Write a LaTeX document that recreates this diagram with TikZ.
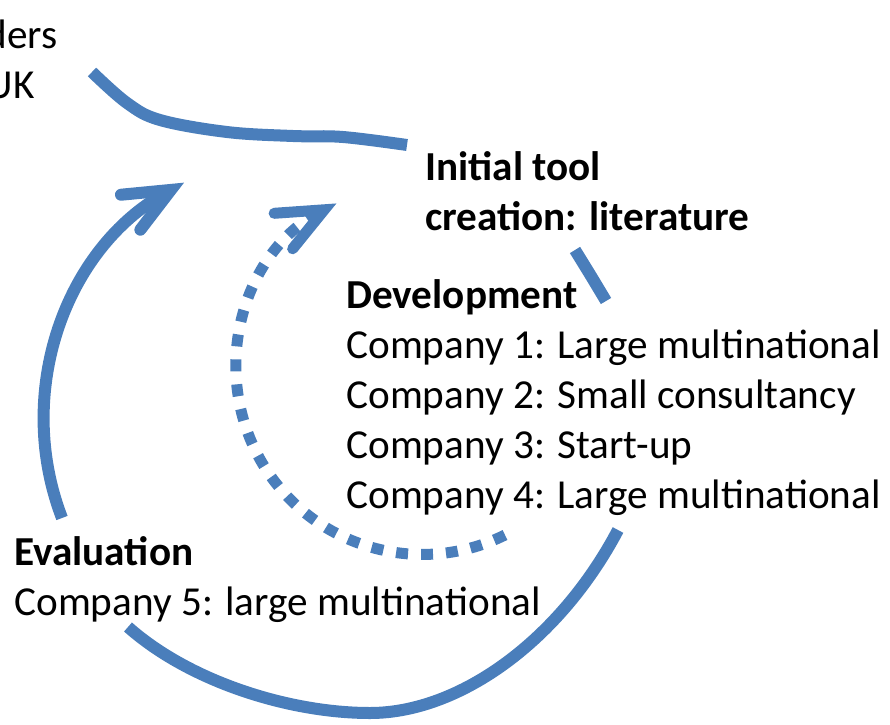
\documentclass[tikz,border=0pt]{standalone}
\usepackage{fontspec}
\setmainfont{Carlito}
\usetikzlibrary{arrows.meta}
\definecolor{cycleblue}{RGB}{74,126,187}
\tikzset{
  flow/.style={cycleblue,line width=6pt},
  dotflow/.style={cycleblue,line width=5.5pt,dash pattern=on 6pt off 6.5pt},
  barb/.style={-{Straight Barb[length=23pt,width=20pt,line cap=round,line join=miter]}},
  txt/.style={font=\fontsize{20.6pt}{25pt}\selectfont,align=left,inner sep=0pt},
  head/.style={txt,font=\fontsize{20.6pt}{25pt}\selectfont\bfseries},
}
\begin{document}
\begin{tikzpicture}[x=0.5pt,y=-0.5pt]
\useasboundingbox (0,0) rectangle (890,724);
\clip (0,0) rectangle (890,724);

% text blocks (base = last line)
\node[txt,anchor=base east] (holders) at (58,48) {ders};
\node[txt,anchor=base east] (uk) at (35,98) {UK};
\node[head,anchor=base west] (init) at (425,230) {Initial tool\\creation: literature};
\node[head,anchor=base west] (dev) at (346,308) {Development};
\node[txt,anchor=base west] (comps) at (346,508) {Company 1: Large multinational\\Company 2: Small consultancy\\Company 3: Start-up\\Company 4: Large multinational};
\node[head,anchor=base west] (eval) at (14,565) {Evaluation};
\node[txt,anchor=base west] (comp5) at (14,615) {Company 5: large multinational};

% ends of the curves
\coordinate (evaltop) at (62,518);
\coordinate (devend) at (505,535);

% solid arrow: evaluation back to the start
\draw[flow,barb] (evaltop) arc[start angle=159,end angle=241,radius=272];
% dotted arrow: development loop
\draw[dotflow,barb] (devend) arc[start angle=63.6,end angle=242.5,radius=186];

% main cycle (partly hidden behind the text)
\draw[flow] plot[smooth,tension=0.6] coordinates {(92,72) (127,103) (160,120) (227,132) (293,136) (343,137) (407,145)};
\draw[flow] plot[smooth] coordinates {(575,250) (591,276) (606,301)};
\draw[flow] (128,627) .. controls (190,682) and (290,713) .. (370,713)
  .. controls (460,713) and (560,640) .. (618,530);
\end{tikzpicture}
\end{document}
